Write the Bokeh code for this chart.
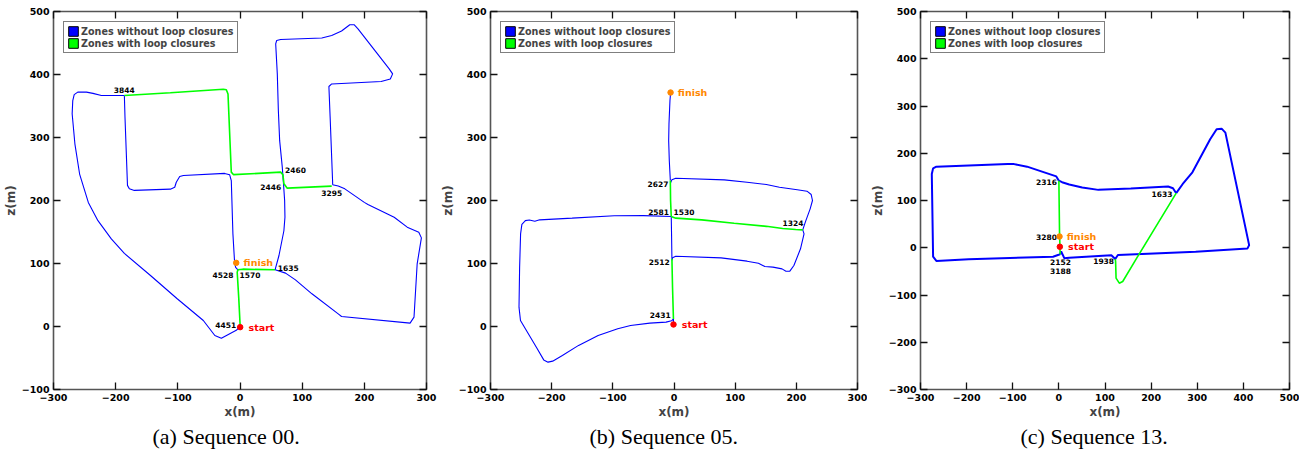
from bokeh.plotting import figure
from bokeh.models import Range1d, LinearAxis, FixedTicker, Legend, LegendItem, Title
from bokeh.layouts import row
from bokeh.embed import file_html
from bokeh.resources import INLINE
from bokeh.core.properties import value

BLUE = "#0000ff"
GREEN = "#00ff00"
ORANGE = "#ff8800"
RED = "#ff0000"
FONT = "DejaVu Sans"
NAN = float("nan")

# ---------------- Sequence 00 (x, z) in metres ----------------
s00_blue_outer = [(0.3, 0), (-6, -6), (-30, -18.5), (-40.5, -14.3), (-59, 9.5), (-101, 44), (-144, 81),
                  (-186, 116), (-207, 139), (-228.5, 168), (-244, 197), (-258, 242), (-265.6, 290),
                  (-270, 337.6), (-269, 358.7), (-266.7, 368), (-261, 372), (-247, 372), (-236.5, 370),
                  (-223, 366.7), (-186, 366.7)]
s00_blue_inner = [(-186, 366.7), (-185, 332), (-181, 224), (-178, 218.5), (-170, 216), (-112, 218),
                  (-105, 221), (-102.5, 229), (-97, 238), (-91, 239.7), (-24.6, 243), (-16.7, 241),
                  (-14, 231.7), (-11.4, 147), (-8.7, 102), (-7, 94), (-3.4, 90)]
s00_blue_up = [(56.4, 90), (62.7, 112.7), (70.6, 152), (72.3, 173.5), (71.8, 200), (69.6, 231.7), (68, 253),
               (63.8, 295), (61.7, 343), (60, 401), (57.4, 448.7), (59, 454), (65.4, 455.6), (131.6, 458),
               (147.5, 462), (163.4, 469), (176.6, 479), (183.5, 479), (189.8, 472.5), (240, 409),
               (245.5, 401), (241.8, 393), (227, 389), (147.5, 385), (143, 381), (145, 332), (149, 229),
               (149, 225)]
s00_blue_right = [(149, 225), (158, 223), (168.6, 218.5), (200, 197), (205.8, 193.7), (248, 173.5),
                  (269, 157.7), (287.6, 149.7), (291.8, 140.7), (285, 99.5), (279.9, 14.8), (273.6, 5.3),
                  (163.4, 15.9), (158, 20), (115.7, 51.9), (89.2, 74), (73.3, 84.7), (56.4, 90)]
s00_green_start = [(0.3, 0), (-2, 45), (-4.5, 86), (-3.4, 90)]
s00_green_mid = [(-3.4, 90), (4.5, 91), (56.4, 90)]
s00_green_top = [(-186, 366.7), (-112, 371), (-27, 376.7), (-22, 375.7), (-19.3, 369), (-14, 245),
                 (-10.3, 241), (65.4, 245), (69, 241), (70.7, 226.5), (76, 219.6), (147.5, 222.8)]
s00_frame_ids = ["3844", "2460", "2446", "3295", "1635", "4528", "1570", "4451"]
s00_id_x = [-186.2, 89.2, 49.5, 147.5, 77.6, -27.3, 16, -23]
s00_id_z = [376, 248.7, 221, 212, 92.6, 81, 81, 2.6]
s00_start = (0.3, -1)
s00_finish = (-6.1, 101)

# ---------------- Sequence 05 ----------------
s05_blue_lower = [(-0.8, 3.2), (-0.9, 12), (-4, 9), (-13, 6.9), (-39.5, 5.3), (-71, 1.6), (-92, -3.7),
                  (-124, -14.3), (-156, -30), (-182.5, -46), (-198.4, -55), (-206, -56.6), (-213, -53),
                  (-225, -32.8), (-243, -3.7), (-251, 9.5), (-253.4, 30.7), (-252.4, 94), (-250.8, 147),
                  (-248.7, 162), (-243, 168), (-236.5, 169), (-227.5, 167), (-219.6, 169.3), (-166.6, 172),
                  (-97.7, 175.7), (-50, 176), (-4.5, 174.6)]
s05_blue_mid = [(-3.4, 107.4), (-4, 147), (-4.5, 174.6)]
s05_blue_top = [(-6, 231.7), (-7.7, 263.5), (-8.7, 295), (-8.2, 321.7), (-6.6, 358.7), (-5.6, 370.4)]
s05_blue_upper_loop = [(210.5, 153.4), (214.7, 165.6), (222.6, 186.8), (226.4, 200), (224.3, 209.5),
                       (217.4, 214.8), (201.5, 217), (172.4, 221), (151, 225.4), (119.4, 229), (82.3, 232.8),
                       (2.9, 235.4), (-3.4, 232.8), (-6, 227.5)]
s05_blue_lower_loop = [(210.5, 153.4), (212.6, 147), (206.8, 123.3), (196, 96.8), (189.4, 87.8), (183, 87.8),
                       (176.6, 91.5), (161.8, 94.2), (148.6, 95.2), (138, 100.5), (119.4, 103.7), (77, 109),
                       (2.9, 111.6), (-2.4, 109), (-3.4, 104.8)]
s05_green_low = [(-0.9, 12), (-2.4, 62.4), (-3.4, 107.4)]
s05_green_mid = [(-4.5, 174.6), (-5.6, 200), (-6, 231.7)]
s05_green_right = [(-4.5, 174.6), (2.9, 172), (45.3, 169.3), (98.3, 164), (151, 159), (177.7, 155.6),
                   (198.9, 154), (210.5, 153.4)]
s05_frame_ids = ["2627", "2581", "1530", "1324", "2512", "2431"]
s05_id_x = [-26.2, -25.2, 16.2, 194.6, -24.1, -22.5]
s05_id_z = [225.4, 182.5, 181.5, 164, 103, 19]
s05_start = (-0.8, 3.2)
s05_finish = (-5.6, 371.4)

# ---------------- Sequence 13 ----------------
s13_blue_left = [(0, 142), (-5.6, 151), (-26.7, 158), (-68.9, 171.6), (-97, 177), (-111, 177), (-265.6, 171.6),
                 (-272.7, 168), (-275.5, 156), (-272.7, -19), (-265.6, -28), (-195.4, -24.5), (-12.6, -19),
                 (-2, -15.4), (2.8, -14)]
s13_blue_upper = [(0, 142), (7, 138.7), (22.5, 133.8), (50.6, 127.5), (85.7, 122.5), (156, 125.4),
                  (236.8, 129.6), (247.4, 126), (254.4, 115.5)]
s13_blue_right = [(254.4, 115.5), (268.5, 135), (289.5, 159.7), (328, 229.7), (342, 250.7), (352.8, 252),
                  (361, 243.7), (412.5, 5.6), (409, -1.4), (296.6, -8.4), (128, -15.4), (122.3, -23.8),
                  (113.8, -16), (22.5, -21), (12, -22.4), (4.9, -7.7), (2.8, -14)]
s13_green_center = [(0, 142), (1.4, 33.6), (2.8, -14)]
s13_green_loop = [(122.3, -23.8), (123, -29.4), (124, -64.4), (131, -75), (138.4, -71.4), (170, -20),
                  (254.4, 115.5)]
s13_frame_ids = ["2316", "1633", "3280", "2152", "3188", "1938"]
s13_id_x = [-26.7, 223.5, -26.7, 3.5, 3.5, 97]
s13_id_z = [140, 113.4, 23.8, -30.8, -49, -28.7]
s13_start = (2.1, 2.1)
s13_finish = (1.4, 23.8)

ticks_600 = [-300, -200, -100, 0, 100, 200, 300]
ticks_z_600 = [-100, 0, 100, 200, 300, 400, 500]
ticks_800 = [-300, -200, -100, 0, 100, 200, 300, 400, 500]

legend_labels = ["Zones without loop closures", "Zones with loop closures"]


def xs(seg):
    return [q[0] for q in seg]


def zs(seg):
    return [q[1] for q in seg]


def style_axis(ax, ticks, label=None):
    ax.ticker = FixedTicker(ticks=ticks)
    ax.axis_line_color = None
    ax.major_tick_in = 7
    ax.major_tick_out = 0
    ax.minor_tick_line_color = None
    ax.major_tick_line_color = "#111111"
    ax.major_tick_line_width = 1.3
    ax.major_label_text_font = FONT
    ax.major_label_text_font_style = "bold"
    if label is None:
        ax.major_label_text_font_size = "1px"
        ax.major_label_text_color = None
        ax.major_label_standoff = 0
        ax.major_label_overrides = {t: "" for t in ticks}
    else:
        ax.major_label_text_font_size = "9.5px"
        ax.major_label_text_color = "black"
        ax.major_label_standoff = 4
        ax.axis_label = label
        ax.axis_label_text_font = FONT
        ax.axis_label_text_font_style = "bold"
        ax.axis_label_text_font_size = "12px"
        ax.axis_label_standoff = 1


def make_panel(width, bl, br, frame_w, xr, zr, xt, zt, blues, greens, lw_b, lw_g,
               ids, idx, idz, start, finish, caption, cap_offset):
    p = figure(width=width, height=452, x_range=Range1d(*xr), y_range=Range1d(*zr),
               output_backend="svg", toolbar_location=None,
               min_border_left=bl, min_border_right=br, min_border_top=11, min_border_bottom=63)
    p.grid.visible = False
    p.outline_line_color = "#555555"
    p.outline_line_width = 1.6
    p.background_fill_color = "white"
    p.border_fill_color = "white"

    style_axis(p.xaxis[0], xt, "x(m)")
    style_axis(p.yaxis[0], zt, "z(m)")
    top = LinearAxis()
    style_axis(top, xt)
    p.add_layout(top, "above")
    right = LinearAxis()
    style_axis(right, zt)
    p.add_layout(right, "right")

    for seg in blues:
        p.line(xs(seg), zs(seg), line_color=BLUE, line_width=lw_b)
    for seg in greens:
        p.line(xs(seg), zs(seg), line_color=GREEN, line_width=lw_g)

    p.text(x=idx, y=idz, text=ids, text_font=value(FONT), text_font_style="bold",
           text_font_size="7.5px", text_align="center", text_baseline="middle", text_color="black")

    p.scatter([finish[0]], [finish[1]], size=5.5, color=ORANGE)
    p.scatter([start[0]], [start[1]], size=5.5, color=RED)
    ux = (xr[1] - xr[0]) / frame_w
    p.text(x=[finish[0] + 7.5 * ux], y=[finish[1]], text=["finish"], text_font=value(FONT),
           text_font_style="bold", text_font_size="9.5px", text_align="left", text_baseline="middle",
           text_color=ORANGE)
    p.text(x=[start[0] + 8.5 * ux], y=[start[1]], text=["start"], text_font=value(FONT),
           text_font_style="bold", text_font_size="9.5px", text_align="left", text_baseline="middle",
           text_color=RED)

    # legend swatches (renderers with no visible data)
    rb = p.quad(left=[NAN], right=[NAN], top=[NAN], bottom=[NAN], fill_color=BLUE,
                line_color="black", line_width=1)
    rg = p.quad(left=[NAN], right=[NAN], top=[NAN], bottom=[NAN], fill_color=GREEN,
                line_color="black", line_width=1)
    leg = Legend(items=[LegendItem(label=legend_labels[0], renderers=[rb]),
                        LegendItem(label=legend_labels[1], renderers=[rg])],
                 location="top_left", margin=10, padding=3, spacing=0,
                 glyph_width=12, glyph_height=12, label_height=12, label_standoff=2,
                 label_text_font=FONT, label_text_font_style="bold", label_text_font_size="9.6px",
                 border_line_color="black", border_line_width=1, background_fill_alpha=1.0)
    p.add_layout(leg, "center")

    p.add_layout(Title(text=caption, align="left", offset=cap_offset, standoff=1,
                       text_font="Liberation Serif", text_font_size="22px", text_font_style="normal",
                       text_color="black"), "below")
    return p


p1 = make_panel(437, 48, 11, 378, (-300, 300), (-100, 500), ticks_600, ticks_z_600,
                [s00_blue_outer, s00_blue_inner, s00_blue_up, s00_blue_right],
                [s00_green_start, s00_green_mid, s00_green_top], 1.1, 1.6,
                s00_frame_ids, s00_id_x, s00_id_z, s00_start, s00_finish, "(a) Sequence 00.", 99)
p2 = make_panel(430, 42, 10, 378, (-300, 300), (-100, 500), ticks_600, ticks_z_600,
                [s05_blue_lower, s05_blue_mid, s05_blue_top, s05_blue_upper_loop, s05_blue_lower_loop],
                [s05_green_low, s05_green_mid, s05_green_right], 1.1, 1.6,
                s05_frame_ids, s05_id_x, s05_id_z, s05_start, s05_finish, "(b) Sequence 05.", 99)
p3 = make_panel(432, 43, 10, 379, (-300, 500), (-300, 500), ticks_800, ticks_800,
                [s13_blue_left, s13_blue_upper, s13_blue_right],
                [s13_green_center, s13_green_loop], 2.0, 1.6,
                s13_frame_ids, s13_id_x, s13_id_z, s13_start, s13_finish, "(c) Sequence 13.", 100)

layout = row(p1, p2, p3)
open("out.html", "w").write(file_html(layout, INLINE))
